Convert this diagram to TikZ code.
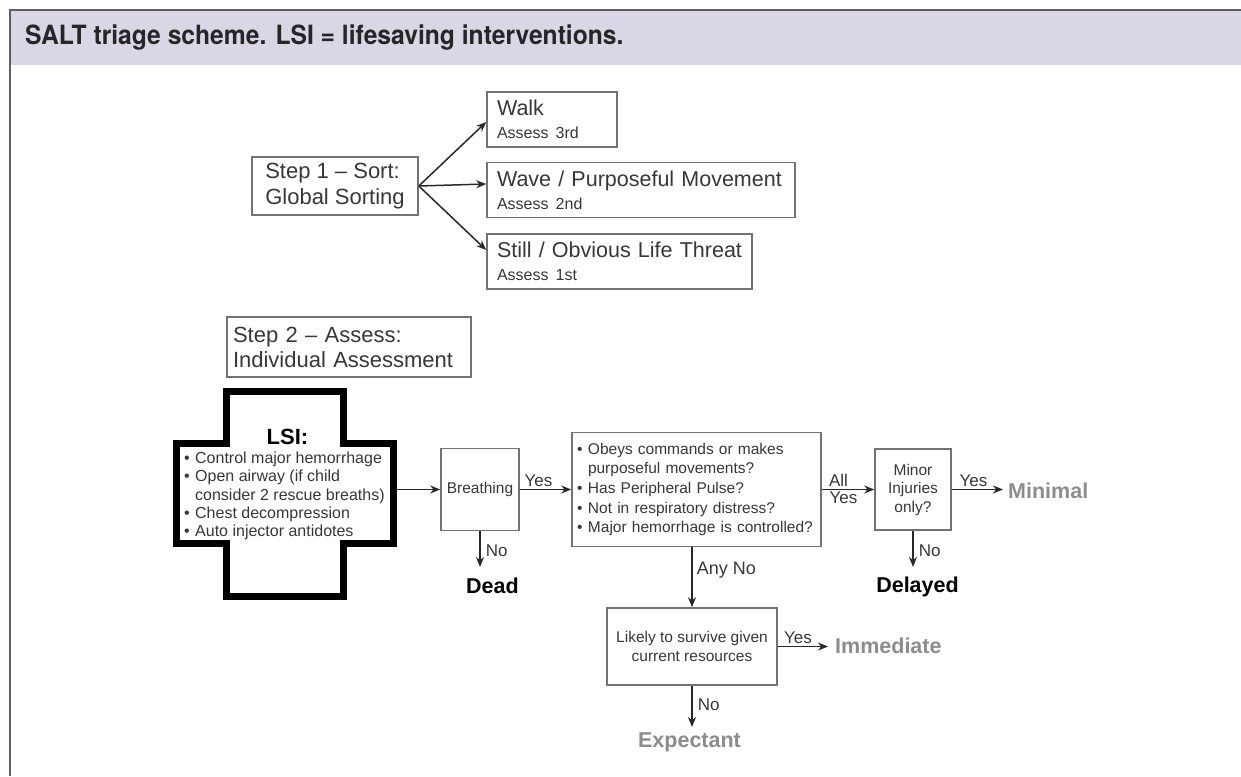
\documentclass[tikz,border=0pt]{standalone}
\usepackage{fontspec}
\setmainfont{Liberation Sans}
\newfontfamily\headfont[FakeStretch=0.93]{TeX Gyre Heros}
\usepackage{tikz}
\usetikzlibrary{calc}
\usetikzlibrary{arrows.meta}

\definecolor{bandlav}{RGB}{218,214,230}
\definecolor{framegrey}{RGB}{95,95,95}
\definecolor{boxgrey}{RGB}{115,115,115}
\definecolor{inkdark}{RGB}{40,40,40}
\definecolor{inkgrey}{RGB}{55,55,55}
\definecolor{fadegrey}{RGB}{140,140,140}

\newcommand{\bul}{\makebox[11pt][l]{\textbullet}}
\newcommand{\nobul}{\hspace*{11pt}}

\begin{document}
\begin{tikzpicture}[x=1pt, y=-1pt,
    box/.style={draw=boxgrey, line width=1.6pt, inner sep=0pt, text=inkgrey},
    sortbox/.style={box, align=left, inner xsep=10pt, minimum height=55pt, font=\fontsize{21.5}{23}\selectfont},
    qbox/.style={box, align=center, font=\fontsize{15.5}{18.5}\selectfont},
    lbl/.style={text=inkgrey, font=\fontsize{17}{17}\selectfont, inner sep=2pt},
    outcome/.style={font=\bfseries\fontsize{21.5}{21.5}\selectfont, inner sep=1pt},
    arr/.style={-{Stealth[length=10pt,width=8pt]}, line width=1.5pt, draw=inkdark}]
\useasboundingbox (0,0) rectangle (1241,776);

% --- HEADER BAND ---
\fill[bandlav] (10,10) rectangle (1241,65);
\draw[framegrey, line width=2.5pt] (10,776) -- (10,10) -- (1241,10);
\node[anchor=west, inner sep=0pt, text=black!85, font=\headfont\bfseries\fontsize{26.5}{26.5}\selectfont]
    (title) at (25,38) {SALT triage scheme. LSI = lifesaving interventions.};

% --- STEP 1: GLOBAL SORTING ---
\node[box, align=left, minimum width=166pt, minimum height=58pt, font=\fontsize{22}{26}\selectfont]
    (step1) at (335,186) {Step 1 -- Sort:\\Global Sorting};
\node[sortbox, text width=110pt] (walk) at (552,119.5)
    {Walk\\{\fontsize{16}{16}\selectfont Assess 3rd}};
\node[sortbox, text width=288pt] (wave) at (641,190)
    {Wave / Purposeful Movement\\{\fontsize{16}{16}\selectfont Assess 2nd}};
\node[sortbox, text width=245pt] (still) at (619.5,261.5)
    {Still / Obvious Life Threat\\{\fontsize{16}{16}\selectfont Assess 1st}};

\draw[arr] (step1.east) -- ([yshift=-2.5pt]walk.west);
\draw[arr] (step1.east) -- ([yshift=6pt]wave.west);
\draw[arr] (step1.east) -- ([yshift=11.5pt]still.west);

% --- STEP 2: INDIVIDUAL ASSESSMENT ---
\node[box, align=left, text width=232pt, inner xsep=6pt, minimum height=60pt, font=\fontsize{22}{25}\selectfont]
    (step2) at (349,347) {Step 2 -- Assess:\\Individual Assessment};

% LSI cross
\draw[line width=7pt, miter limit=4] (226.5,391.5) -- (343.5,391.5) -- (343.5,443.5) -- (393.5,443.5)
    -- (393.5,543.5) -- (343.5,543.5) -- (343.5,596.5) -- (226.5,596.5) -- (226.5,543.5)
    -- (176.5,543.5) -- (176.5,443.5) -- (226.5,443.5) -- cycle;
\node[inner sep=0pt, font=\bfseries\fontsize{22}{22}\selectfont] (lsihead) at (287.5,437) {LSI:};
\node[anchor=west, inner sep=0pt, align=left, text=inkgrey, font=\fontsize{16}{18.2}\selectfont] (lsilist) at (184,496)
    {\bul Control major hemorrhage\\\bul Open airway (if child\\\nobul consider 2 rescue breaths)\\\bul Chest decompression\\\bul Auto injector antidotes};
\coordinate (lsiout) at (397,489.5);

% decision boxes
\node[qbox, minimum width=78pt, minimum height=82pt] (breath) at (480,489.5) {Breathing};
\node[box, align=left, text width=239pt, inner xsep=5pt, minimum height=114pt, font=\fontsize{15.5}{19.6}\selectfont]
    (quest) at (696.5,489.5)
    {\bul Obeys commands or makes\\\nobul purposeful movements?\\\bul Has Peripheral Pulse?\\\bul Not in respiratory distress?\\\bul Major hemorrhage is controlled?};
\node[qbox, minimum width=76pt, minimum height=81pt] (minor) at (913,489.5) {Minor\\Injuries\\only?};
\node[qbox, minimum width=170pt, minimum height=77pt, font=\fontsize{15.5}{19}\selectfont]
    (likely) at (692,646.5) {Likely to survive given\\current resources};

% outcomes
\node[outcome, anchor=north] (dead) at (492.5,577) {Dead};
\node[outcome, anchor=north] (delayed) at (917.5,576) {Delayed};
\node[outcome, anchor=west, text=fadegrey] (minimal) at (1007,491) {Minimal};
\node[outcome, anchor=west, text=fadegrey] (immediate) at (834,646) {Immediate};
\node[outcome, anchor=north, text=fadegrey] (expectant) at (689.5,731) {Expectant};

% connectors
\draw[arr] (lsiout) -- (breath.west);
\draw[arr] (breath) -- node[lbl, above, xshift=-7pt] (yesbreath) {Yes} (quest);
\draw[arr, shorten >=10pt] (breath) -- (breath |- dead.north)
    node[lbl, midway, right, xshift=3pt, yshift=3pt] (nobreath) {No};
\draw[arr] (quest) -- node[lbl, above, xshift=-9.5pt] (allq) {All}
    node[lbl, below, xshift=-4.5pt] (yesq) {Yes} (minor);
\draw[arr] (likely |- quest.south) -- (likely.north)
    node[lbl, midway, right, xshift=2pt, yshift=7pt, font=\fontsize{18}{18}\selectfont] (anyno) {Any No};
\draw[arr] (minor) -- ($(minor.east -| minimal.west)+(-4,0)$)
    node[lbl, midway, above, xshift=-4pt] (yesminor) {Yes};
\draw[arr, shorten >=9pt] (minor) -- (minor |- delayed.north)
    node[lbl, midway, right, xshift=3pt, yshift=3pt] (nominor) {No};
\draw[arr] (likely) -- ($(likely.east -| immediate.west)+(-6,0)$)
    node[lbl, midway, above, xshift=-5pt] (yeslikely) {Yes};
\draw[arr, shorten >=4pt] (likely) -- (likely |- expectant.north)
    node[lbl, midway, right, xshift=3pt, yshift=4pt] (nolikely) {No};
\end{tikzpicture}
\end{document}
